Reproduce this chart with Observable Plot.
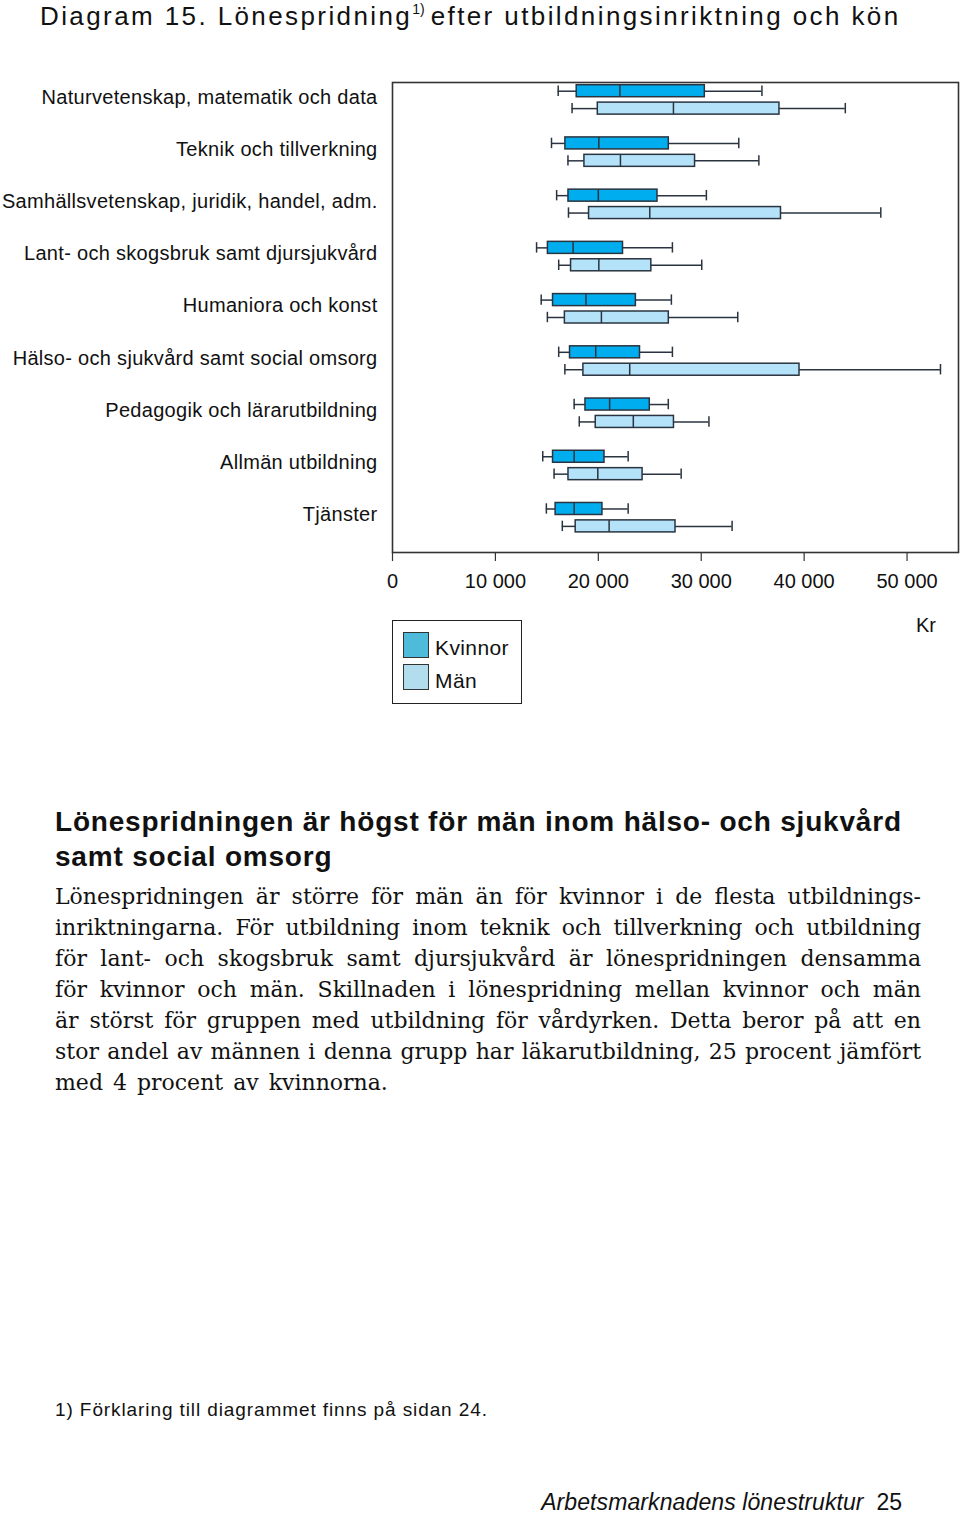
<!DOCTYPE html>
<html lang="sv">
<head>
<meta charset="utf-8">
<script src="https://cdn.jsdelivr.net/npm/d3@7"></script>
<script src="https://cdn.jsdelivr.net/npm/@observablehq/plot@0.6"></script>
<style>
  html, body { margin: 0; padding: 0; background: #fff; }
  #page { position: relative; width: 960px; height: 1514px; color: #111; font-family: "Liberation Sans", Arial, sans-serif; }
  #title { position: absolute; left: 40px; top: 0px; font-size: 26px; line-height: 32px; white-space: nowrap; letter-spacing: 2.4px; }
  #title sup { font-size: 14px; vertical-align: 0; position: relative; top: -11px; letter-spacing: 0; margin-right: 6px; }
  #chart { position: absolute; left: 0; top: 60px; }
  #legend { position: absolute; left: 392px; top: 620px; width: 128px; height: 82px; border: 1.5px solid #222; }
  .sw { position: absolute; left: 10px; width: 26px; height: 26px; border: 1.3px solid #333; box-sizing: border-box; }
  .lt { position: absolute; left: 42px; font-size: 21px; line-height: 24px; letter-spacing: 0.4px; }
  #kr { position: absolute; left: 916px; top: 614px; font-size: 20px; }
  #heading { position: absolute; left: 55px; top: 804px; width: 900px; font-weight: bold; font-size: 28px; line-height: 35px; letter-spacing: 0.8px; white-space: nowrap; }
  #body { position: absolute; left: 55px; top: 881px; width: 866px; font-family: "DejaVu Serif", serif; font-size: 22px; line-height: 31px; }
  #body div { text-align: justify; text-align-last: justify; white-space: nowrap; }
  #body div.last { text-align-last: left; word-spacing: 3px; }
  #foot { position: absolute; left: 55px; top: 1398px; font-size: 19px; line-height: 24px; letter-spacing: 0.9px; }
  #pagefoot { position: absolute; right: 58px; top: 1492px; font-size: 23px; line-height: 21px; }
  #pagefoot i { letter-spacing: 0.1px; }
</style>
</head>
<body>
<div id="page">
  <div id="title">Diagram 15. Lönespridning<sup>1)</sup>efter utbildningsinriktning och kön</div>
  <div id="chart"></div>
  <div id="legend">
    <div class="sw" style="top:11px;background:#4dbbd9"></div><div class="lt" style="top:15px">Kvinnor</div>
    <div class="sw" style="top:43px;background:#b1ddec"></div><div class="lt" style="top:48px">Män</div>
  </div>
  <div id="kr">Kr</div>
  <div id="heading">Lönespridningen är högst för män inom hälso- och sjukvård<br>samt social omsorg</div>
  <div id="body">
    <div>Lönespridningen är större för män än för kvinnor i de flesta utbildnings-</div>
    <div>inriktningarna. För utbildning inom teknik och tillverkning och utbildning</div>
    <div>för lant- och skogsbruk samt djursjukvård är lönespridningen densamma</div>
    <div>för kvinnor och män. Skillnaden i lönespridning mellan kvinnor och män</div>
    <div>är störst för gruppen med utbildning för vårdyrken. Detta beror på att en</div>
    <div>stor andel av männen i denna grupp har läkarutbildning, 25 procent jämfört</div>
    <div class="last">med 4 procent av kvinnorna.</div>
  </div>
  <div id="foot">1) Förklaring till diagrammet finns på sidan 24.</div>
  <div id="pagefoot"><i>Arbetsmarknadens lönestruktur</i>&nbsp; 25</div>
</div>
<script>
const categories = [
  "Naturvetenskap, matematik och data",
  "Teknik och tillverkning",
  "Samhällsvetenskap, juridik, handel, adm.",
  "Lant- och skogsbruk samt djursjukvård",
  "Humaniora och konst",
  "Hälso- och sjukvård samt social omsorg",
  "Pedagogik och lärarutbildning",
  "Allmän utbildning",
  "Tjänster"
];
const sexes = ["Kvinnor", "Män"];
const womenLow    = [16100, 15450, 15950, 14000, 14450, 16150, 17650, 14600, 14950];
const womenQ1     = [17900, 16800, 17100, 15100, 15600, 17250, 18750, 15600, 15850];
const womenMedian = [22100, 20050, 20000, 17550, 18800, 19750, 21100, 17650, 17650];
const womenQ3     = [30350, 26850, 25750, 22400, 23650, 24050, 25000, 20600, 20400];
const womenHigh   = [35900, 33650, 30500, 27200, 27100, 27200, 26800, 22900, 22900];
const menLow      = [17450, 17050, 17100, 16150, 15050, 16750, 18150, 15700, 16500];
const menQ1       = [19950, 18650, 19100, 17350, 16750, 18550, 19750, 17100, 17800];
const menMedian   = [27300, 22150, 25000, 20050, 20300, 23050, 23400, 19950, 21050];
const menQ3       = [37600, 29400, 37750, 25150, 26850, 39550, 27350, 24300, 27500];
const menHigh     = [44000, 35600, 47450, 30050, 33550, 53250, 30750, 28050, 33000];
const xTicks = [0, 10000, 20000, 30000, 40000, 50000];

const rows = [];
categories.forEach((c, i) => {
  rows.push({key: c + "|K", sex: "Kvinnor", lo: womenLow[i], q1: womenQ1[i], med: womenMedian[i], q3: womenQ3[i], hi: womenHigh[i]});
  rows.push({key: c + "|M", sex: "Män", lo: menLow[i], q1: menQ1[i], med: menMedian[i], q3: menQ3[i], hi: menHigh[i]});
});
const yDomain = categories.flatMap(c => [c + "|K", c + "|M", c + "|_"]);
const yTicks = categories.map(c => c + "|K");
const fmt = d => d3.format(",")(d).replace(/,/g, " ");
const dark = "#2a3440";

const chart = Plot.plot({
  width: 960,
  height: 560,
  marginTop: 22,
  marginBottom: 68,
  marginLeft: 392,
  marginRight: 2,
  style: {fontFamily: "'Liberation Sans', Arial, sans-serif", fontSize: "20px", color: "#111", background: "#fff"},
  x: {domain: [0, 55000]},
  y: {domain: yDomain, padding: 0, round: false},
  color: {domain: sexes, range: ["#00aeef", "#b4e2f8"]},
  marks: [
    Plot.axisX({ticks: xTicks, tickFormat: fmt, tickSize: 9, tickPadding: 12, label: null, fontSize: 20, stroke: "#333", strokeWidth: 1.2}),
    Plot.axisY(yTicks, {tickSize: 0, tickPadding: 15, tickFormat: k => k.split("|")[0], dy: 6, label: null, fontSize: 20}),
    Plot.ruleY(rows, {y: "key", x1: "lo", x2: "q1", stroke: dark, strokeWidth: 1.5}),
    Plot.ruleY(rows, {y: "key", x1: "q3", x2: "hi", stroke: dark, strokeWidth: 1.5}),
    Plot.tickX(rows, {x: "lo", y: "key", insetTop: 3.5, insetBottom: 3.5, stroke: dark, strokeWidth: 1.5}),
    Plot.tickX(rows, {x: "hi", y: "key", insetTop: 3.5, insetBottom: 3.5, stroke: dark, strokeWidth: 1.5}),
    Plot.barX(rows, {y: "key", x1: "q1", x2: "q3", fill: "sex", insetTop: 2.7, insetBottom: 2.7, stroke: dark, strokeWidth: 1.5}),
    Plot.tickX(rows, {x: "med", y: "key", insetTop: 2.7, insetBottom: 2.7, stroke: dark, strokeWidth: 1.5}),
    Plot.frame({stroke: "#333", strokeWidth: 1.6})
  ]
});
chart.querySelectorAll("g[aria-label='y-axis tick label'] text").forEach(t => t.style.letterSpacing = "0.3px");
document.getElementById("chart").appendChild(chart);
</script>
</body>
</html>
